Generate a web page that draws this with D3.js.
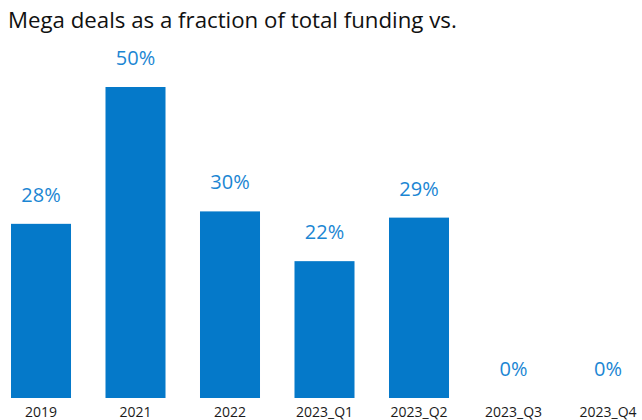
<!DOCTYPE html>
<html>
<head>
<meta charset="utf-8">
<script src="https://cdn.jsdelivr.net/npm/d3@7/dist/d3.min.js"></script>
<style>
  html, body { margin: 0; padding: 0; background: #fff; }
  svg { display: block; font-family: "Open Sans", Roboto, sans-serif; }
</style>
</head>
<body>
<svg id="chart" width="642" height="420"></svg>
<script>
// Share of total funding coming from mega deals, by period (percent)
const categories = ["2019", "2021", "2022", "2023_Q1", "2023_Q2", "2023_Q3", "2023_Q4"];
const values = [28, 50, 30, 22, 29, 0, 0];
const titleText = "Mega deals as a fraction of total funding vs.";

const svg = d3.select("#chart");

const x = d3.scaleBand()
  .domain(categories)
  .range([11, 638])
  .paddingInner(0.365)
  .paddingOuter(0);

const y = d3.scaleLinear()
  .domain([0, 50])
  .range([398, 87]);

// Title, fitted to its line width
const title = svg.append("text")
  .attr("x", 8)
  .attr("y", 28)
  .attr("fill", "#111")
  .style("font-size", "22px")
  .text(titleText);
const tl = title.node().getComputedTextLength();
title.style("font-size", (22 * 449 / tl).toFixed(2) + "px");

// Bars
svg.append("g")
  .selectAll("rect")
  .data(values)
  .join("rect")
  .attr("x", (d, i) => x(categories[i]))
  .attr("y", d => y(d))
  .attr("width", x.bandwidth())
  .attr("height", d => y(0) - y(d))
  .attr("fill", "#0579c9");

// Value labels
svg.append("g")
  .selectAll("text")
  .data(values)
  .join("text")
  .attr("x", (d, i) => x(categories[i]) + x.bandwidth() / 2)
  .attr("y", d => y(d) - 22)
  .attr("text-anchor", "middle")
  .attr("fill", "#1b86d3")
  .style("font-size", "20px")
  .text(d => d + "%");

// Category axis
const axis = svg.append("g")
  .attr("transform", `translate(0,${y(0)})`)
  .call(d3.axisBottom(x).tickSize(0));
axis.select(".domain").remove();
axis.selectAll("text")
  .attr("y", 19)
  .attr("dy", null)
  .attr("fill", "#1a1a1a")
  .style("font-family", "\"Open Sans\", Roboto, sans-serif")
  .style("font-size", "14px");
</script>
</body>
</html>
